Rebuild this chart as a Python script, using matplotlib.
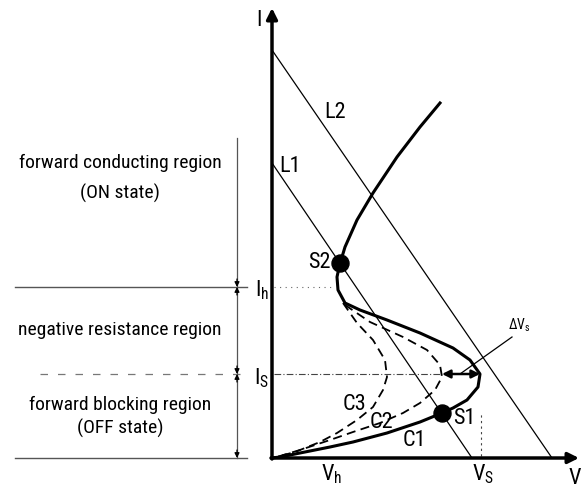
import matplotlib
matplotlib.use("Agg")
import matplotlib.pyplot as plt

# coordinates: V right, I up, origin at the axes origin (pixel-like units)
fam = "Roboto Condensed"
plt.rcParams['font.family'] = [fam, 'DejaVu Sans']
plt.rcParams['mathtext.fontset'] = 'custom'
plt.rcParams['mathtext.rm'] = fam
plt.rcParams['mathtext.it'] = fam
plt.rcParams['mathtext.sf'] = fam

# load lines L1, L2 (V, I)
l1_v = [0, 200]
l1_i = [295, 0]
l2_v = [0, 280]
l2_i = [408, 0]

# C1: full S-shaped characteristic, top end -> origin
c1_v = [168, 148, 125, 101, 85, 73, 70, 68, 65, 66, 73, 88, 115, 148, 181, 198, 208, 206, 195, 181, 170, 148, 115, 81, 58, 28, 8, 0]
c1_i = [355, 331, 301, 265, 238, 211, 201, 195, 181, 168, 155, 148, 138, 125, 110, 98, 84, 71, 58, 50, 45, 36, 25, 16, 11, 5, 1, 0]
# C2, C3 dashed
c2_v = [73, 98, 131, 155, 168, 170, 163, 148, 131, 108, 81, 58, 28, 8, 0]
c2_i = [153, 136, 121, 108, 93, 81, 68, 55, 45, 35, 26, 18, 8, 2, 0]
c3_v = [71, 85, 101, 113, 115, 111, 101, 85, 65, 48, 23, 4, 0]
c3_i = [155, 135, 118, 98, 81, 68, 51, 38, 25, 16, 6, 1, 0]

# operating points
s_v = [68, 170]
s_i = [195, 45]
s_names = ["S2", "S1"]

I_h = 171
I_s = 84
V_h = 60
V_s = 209
V_s2 = 170  # C2 tip

fig = plt.figure(figsize=(5.86, 4.88), dpi=100)
ax = fig.add_axes([0, 0, 1, 1])
ax.set_xlim(-272, 314)
ax.set_ylim(-30, 458)
ax.axis('off')

# axes with arrows
ax.annotate('', xy=(0, 450), xytext=(0, -1),
            arrowprops=dict(arrowstyle='-|>', lw=2.5, color='black', mutation_scale=16, shrinkA=0, shrinkB=0))
ax.annotate('', xy=(307, 0), xytext=(-1, 0),
            arrowprops=dict(arrowstyle='-|>', lw=2.5, color='black', mutation_scale=16, shrinkA=0, shrinkB=0))
ax.text(-13, 438, 'I', fontsize=16, ha='center', va='center')
ax.text(303, -20, 'V', fontsize=16, ha='center', va='center')
ax.text(V_h, -16, r'$\mathregular{V_h}$', fontsize=16, ha='center', va='center')
ax.text(V_s + 2, -16, r'$\mathregular{V_S}$', fontsize=16, ha='center', va='center')
ax.text(-10, I_h - 3, r'$\mathregular{I_h}$', fontsize=16, ha='center', va='center')
ax.text(-10, I_s - 4, r'$\mathregular{I_S}$', fontsize=16, ha='center', va='center')

# load lines
ax.plot(l1_v, l1_i, color='black', lw=0.9)
ax.plot(l2_v, l2_i, color='black', lw=0.9)
ax.text(18, 291, 'L1', fontsize=16, ha='center', va='center')
ax.text(63, 346, 'L2', fontsize=16, ha='center', va='center')

# characteristics
ax.plot(c1_v, c1_i, color='black', lw=2.2, solid_joinstyle='round')
ax.plot(c2_v, c2_i, color='black', lw=1.3, ls=(0, (5, 3)))
ax.plot(c3_v, c3_i, color='black', lw=1.3, ls=(0, (5, 3)))
ax.text(142, 18, 'C1', fontsize=16, ha='center', va='center')
ax.text(109, 36, 'C2', fontsize=16, ha='center', va='center')
ax.text(82, 54, 'C3', fontsize=16, ha='center', va='center')

ax.scatter(s_v, s_i, s=150, color='black', zorder=5)
ax.text(47, 195, s_names[0], fontsize=16, ha='center', va='center')
ax.text(192, 40, s_names[1], fontsize=16, ha='center', va='center')

# guide lines on the plot side
ax.plot([2, 62], [I_h, I_h], color='#666666', lw=0.8, ls=(0, (1, 4)))
ax.plot([2, V_s2], [I_s, I_s], color='#444444', lw=0.8, ls=(0, (6, 2, 1, 2)))
ax.plot([V_s, V_s], [2, 45], color='#444444', lw=0.8, ls=(0, (2, 3)))

# delta Vs
ax.annotate('', xy=(V_s2, I_s), xytext=(208, I_s),
            arrowprops=dict(arrowstyle='<|-|>', lw=1.8, color='black', mutation_scale=12, shrinkA=0, shrinkB=0))
ax.plot([188, 240], [I_s, 121], color='black', lw=0.9)
ax.text(236, 133, r'$\mathregular{\Delta V_s}$', fontsize=10, ha='left', va='center')

# region bands on the left
ax.plot([-257, -25], [I_h, I_h], color='#555555', lw=1.0)
ax.plot([-232, -25], [I_s, I_s], color='#777777', lw=0.9, ls=(0, (6, 8)))
ax.plot([-257, -25], [0, 0], color='#555555', lw=1.0)
ax.plot([-35, -35], [320, 0], color='#555555', lw=0.9)
arr = dict(arrowstyle='-|>', lw=0.9, color='black', mutation_scale=7, shrinkA=0, shrinkB=0)
for y0, y1 in [(I_h + 8, I_h), (I_h - 8, I_h), (I_s + 8, I_s), (I_s - 8, I_s), (8, 0)]:
    ax.annotate('', xy=(-35, y1), xytext=(-35, y0), arrowprops=arr)

ax.text(-152, 295, 'forward conducting region', fontsize=14, ha='center', va='center')
ax.text(-152, 265, '(ON state)', fontsize=14, ha='center', va='center')
ax.text(-152, 128, 'negative resistance region', fontsize=14, ha='center', va='center')
ax.text(-152, 53, 'forward blocking region', fontsize=14, ha='center', va='center')
ax.text(-152, 30, '(OFF state)', fontsize=14, ha='center', va='center')

fig.savefig('out.png', dpi=100)
